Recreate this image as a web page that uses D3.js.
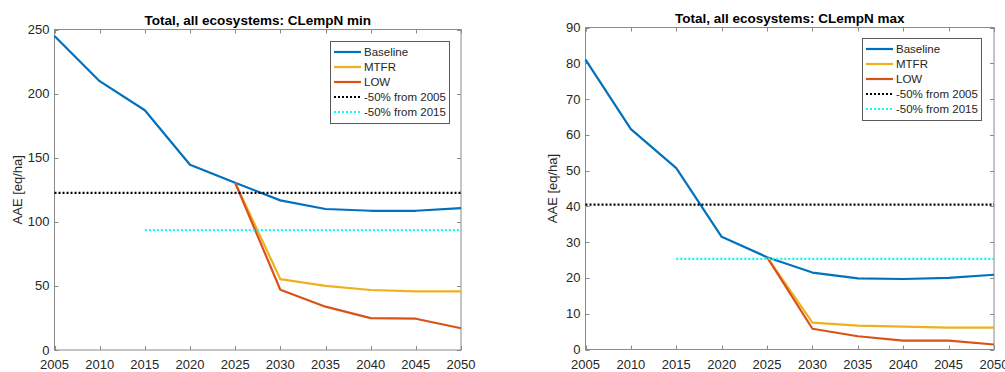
<!DOCTYPE html>
<html>
<head>
<meta charset="utf-8">
<script src="https://cdn.jsdelivr.net/npm/d3@7"></script>
<style>
  html, body { margin: 0; padding: 0; background: #fff; }
  svg { display: block; font-family: "Liberation Sans", Arial, sans-serif; }
</style>
</head>
<body>
<svg id="chart" width="1005" height="372"></svg>
<script>
// Years on the x axis
const years = [2005, 2010, 2015, 2020, 2025, 2030, 2035, 2040, 2045, 2050];
const xTicks = [2005, 2010, 2015, 2020, 2025, 2030, 2035, 2040, 2045, 2050];

// CLempN min (left panel)
const minBaseline = [245, 209.7, 187, 144.5, 130.5, 116.7, 110, 108.6, 108.6, 110.6];
const minMTFR = [null, null, null, null, 130.5, 55.3, 50, 46.8, 45.7, 45.7];
const minLOW = [null, null, null, null, 130.5, 47, 33.8, 24.9, 24.4, 17];
const minTarget2005 = 122.5;
const minTarget2015 = 93.5;
const minYTicks = [0, 50, 100, 150, 200, 250];

// CLempN max (right panel)
const maxBaseline = [81, 61.6, 50.7, 31.5, 25.8, 21.5, 19.9, 19.7, 20, 20.9];
const maxMTFR = [null, null, null, null, 25.8, 7.5, 6.7, 6.4, 6.1, 6.1];
const maxLOW = [null, null, null, null, 25.8, 5.8, 3.7, 2.5, 2.5, 1.4];
const maxTarget2005 = 40.5;
const maxTarget2015 = 25.35;
const maxYTicks = [0, 10, 20, 30, 40, 50, 60, 70, 80, 90];

const seriesNames = ["Baseline", "MTFR", "LOW", "-50% from 2005", "-50% from 2015"];
const colors = { Baseline: "#0072BD", MTFR: "#EDB120", LOW: "#D95319", t2005: "#000000", t2015: "#00FFFF" };

const svg = d3.select("#chart");
const axisColor = "#8a8a8a";
const textColor = "#262626";

function panel(cfg) {
  const g = svg.append("g");
  const x = d3.scaleLinear().domain([2005, 2050]).range([cfg.left, cfg.right]);
  const y = d3.scaleLinear().domain([0, cfg.ymax]).range([cfg.bottom, cfg.top]);
  const tk = 4;

  // box
  g.append("rect")
    .attr("x", cfg.left).attr("y", cfg.top)
    .attr("width", cfg.right - cfg.left).attr("height", cfg.bottom - cfg.top)
    .attr("fill", "none").attr("stroke", axisColor).attr("stroke-width", 1);

  // x ticks (bottom and top, pointing inward)
  xTicks.forEach(t => {
    const px = Math.round(x(t)) + 0.5;
    g.append("line").attr("x1", px).attr("x2", px).attr("y1", cfg.bottom).attr("y2", cfg.bottom - tk)
      .attr("stroke", axisColor);
    g.append("line").attr("x1", px).attr("x2", px).attr("y1", cfg.top).attr("y2", cfg.top + tk)
      .attr("stroke", axisColor);
    g.append("text").attr("x", x(t)).attr("y", cfg.bottom + 19)
      .attr("text-anchor", "middle").attr("font-size", "13px").attr("fill", textColor)
      .text(t);
  });

  // y ticks (left and right, pointing inward)
  cfg.yTicks.forEach(t => {
    const py = Math.round(y(t)) + 0.5;
    g.append("line").attr("x1", cfg.left).attr("x2", cfg.left + tk).attr("y1", py).attr("y2", py)
      .attr("stroke", axisColor);
    g.append("line").attr("x1", cfg.right).attr("x2", cfg.right - tk).attr("y1", py).attr("y2", py)
      .attr("stroke", axisColor);
    g.append("text").attr("x", cfg.left - 5).attr("y", y(t) + 4.5)
      .attr("text-anchor", "end").attr("font-size", "13px").attr("fill", textColor)
      .text(t);
  });

  // y label
  g.append("text")
    .attr("transform", `translate(${cfg.ylabelX},${(cfg.top + cfg.bottom) / 2}) rotate(-90)`)
    .attr("text-anchor", "middle").attr("font-size", "13px").attr("fill", textColor)
    .text("AAE [eq/ha]");

  // title
  g.append("text")
    .attr("x", (cfg.left + cfg.right) / 2).attr("y", cfg.titleY)
    .attr("text-anchor", "middle").attr("font-size", "13.5px").attr("font-weight", "bold")
    .attr("fill", "#000").text(cfg.title);

  const clip = "clip" + cfg.id;
  g.append("clipPath").attr("id", clip).append("rect")
    .attr("x", cfg.left - 2).attr("y", cfg.top - 2)
    .attr("width", cfg.right - cfg.left + 4).attr("height", cfg.bottom - cfg.top + 4);
  const plot = g.append("g").attr("clip-path", `url(#${clip})`);

  const line = d3.line()
    .defined(d => d[1] !== null)
    .x(d => x(d[0])).y(d => y(d[1]));

  const draw = (vals, color) => {
    plot.append("path")
      .datum(years.map((yr, i) => [yr, vals[i]]))
      .attr("d", line).attr("fill", "none")
      .attr("stroke", color).attr("stroke-width", 2.2)
      .attr("stroke-linejoin", "round");
  };
  draw(cfg.baseline, colors.Baseline);
  draw(cfg.mtfr, colors.MTFR);
  draw(cfg.low, colors.LOW);

  const hline = (x0, v, color) => {
    plot.append("path")
      .datum([[x0, v], [2050, v]])
      .attr("d", line).attr("fill", "none")
      .attr("stroke", color).attr("stroke-width", 2.2)
      .attr("stroke-dasharray", "2,2");
  };
  hline(2005, cfg.t2005, colors.t2005);
  hline(2015, cfg.t2015, colors.t2015);

  // legend
  const lg = g.append("g").attr("transform", `translate(${cfg.legX},${cfg.legY})`);
  lg.append("rect").attr("x", 0.5).attr("y", 0.5).attr("width", 119).attr("height", 82)
    .attr("fill", "#fff").attr("stroke", "#5a5a5a").attr("stroke-width", 1);
  const legendColors = [colors.Baseline, colors.MTFR, colors.LOW, colors.t2005, colors.t2015];
  seriesNames.forEach((name, i) => {
    const ly = 11 + i * 15;
    const ln = lg.append("line").attr("x1", 4).attr("x2", 31).attr("y1", ly).attr("y2", ly)
      .attr("stroke", legendColors[i]).attr("stroke-width", 2.2);
    if (i >= 3) ln.attr("stroke-dasharray", "2,2");
    lg.append("text").attr("x", 34).attr("y", ly + 4).attr("font-size", "11.5px")
      .attr("fill", textColor).text(name);
  });
}

panel({
  id: "min", title: "Total, all ecosystems: CLempN min",
  left: 54.5, right: 461, top: 29.5, bottom: 350, ymax: 250,
  yTicks: minYTicks, ylabelX: 22, titleY: 25,
  baseline: minBaseline, mtfr: minMTFR, low: minLOW,
  t2005: minTarget2005, t2015: minTarget2015,
  legX: 330, legY: 41
});

panel({
  id: "max", title: "Total, all ecosystems: CLempN max",
  left: 585.5, right: 994, top: 27.5, bottom: 349.5, ymax: 90,
  yTicks: maxYTicks, ylabelX: 557, titleY: 23,
  baseline: maxBaseline, mtfr: maxMTFR, low: maxLOW,
  t2005: maxTarget2005, t2015: maxTarget2015,
  legX: 862, legY: 38
});
</script>
</body>
</html>
